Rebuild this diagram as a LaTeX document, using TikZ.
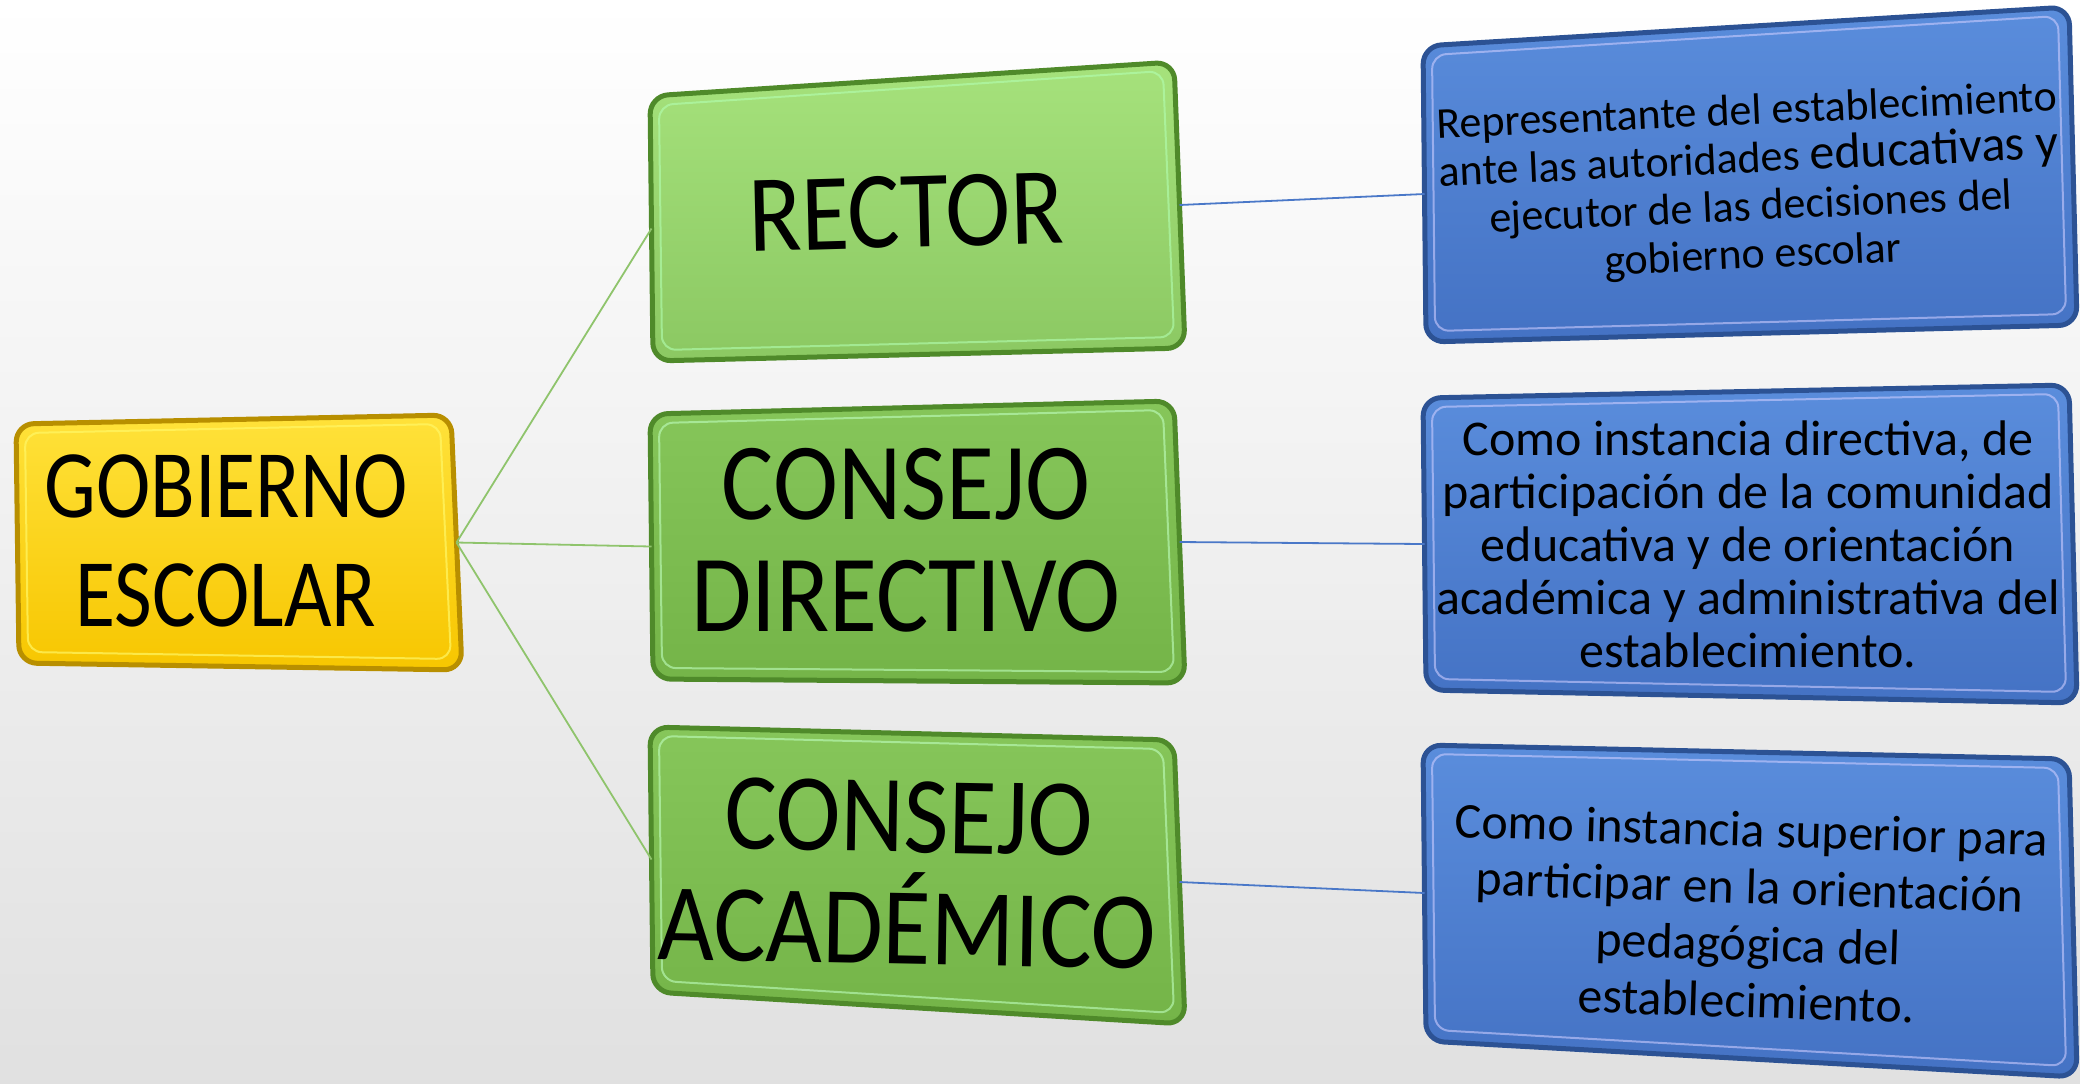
\documentclass[tikz,border=0pt]{standalone}
\usepackage{fontspec}
\setmainfont{Carlito}
\usetikzlibrary{calc}
\definecolor{yelTop}{HTML}{FFE23A}
\definecolor{yelBot}{HTML}{F7C600}
\definecolor{yelEdge}{HTML}{B88F00}
\definecolor{grTopA}{HTML}{A6E27C}
\definecolor{grBotA}{HTML}{8BC862}
\definecolor{grTopB}{HTML}{86C65A}
\definecolor{grBotB}{HTML}{74B448}
\definecolor{grEdge}{HTML}{4F8A2A}
\definecolor{blTop}{HTML}{5A8DDC}
\definecolor{blBot}{HTML}{4472C4}
\definecolor{blEdge}{HTML}{2C5294}
\definecolor{lnGreen}{HTML}{8FC46C}
\definecolor{lnBlue}{HTML}{4A78C8}
\newcommand\bevbox[6]{%
  \coordinate (#1-tl) at #2;
  \coordinate (#1-tr) at #3;
  \coordinate (#1-br) at #4;
  \coordinate (#1-bl) at #5;
  \path[#6] (#1-tl) -- (#1-tr) -- (#1-br) -- (#1-bl) -- cycle;
  \draw[#6-inner] ([shift={(9,9)}]#1-tl) -- ([shift={(-11,9)}]#1-tr) -- ([shift={(-11,-11)}]#1-br) -- ([shift={(9,-11)}]#1-bl) -- cycle;
  \coordinate (#1-e) at ($(#1-tr)!.5!(#1-br)$);
  \coordinate (#1-w) at ($(#1-tl)!.5!(#1-bl)$);
}
\tikzset{
  yelbox/.style={top color=yelTop, bottom color=yelBot, draw=yelEdge, line width=2.5pt, rounded corners=9pt},
  yelbox-inner/.style={draw=yellow!60!white, line width=1pt, rounded corners=7pt, opacity=0.7},
  grboxA/.style={top color=grTopA, bottom color=grBotA, draw=grEdge, line width=2.5pt, rounded corners=9pt},
  grboxA-inner/.style={draw=green!30!white, line width=1pt, rounded corners=7pt, opacity=0.6},
  grboxB/.style={top color=grTopB, bottom color=grBotB, draw=grEdge, line width=2.5pt, rounded corners=9pt},
  grboxB-inner/.style={draw=green!25!white, line width=1pt, rounded corners=7pt, opacity=0.6},
  blbox/.style={top color=blTop, bottom color=blBot, draw=blEdge, line width=2.5pt, rounded corners=9pt},
  blbox-inner/.style={draw=blue!20!white, line width=1pt, rounded corners=7pt, opacity=0.6},
  gline/.style={draw=lnGreen, line width=0.9pt},
  bline/.style={draw=lnBlue, line width=0.9pt},
  bigtxt/.style={text=black, align=center, inner sep=0pt},
  desctxt/.style={text=black, align=center, inner sep=0pt},
}
\begin{document}
\begin{tikzpicture}[x=0.5pt,y=-0.5pt]
\useasboundingbox (0,0) rectangle (2080,1083);
\shade[top color=white, bottom color=black!12] (0,0) rectangle (2080,1083);

\bevbox{gob}{(16,424)}{(451,415)}{(462,670)}{(19,663)}{yelbox}
\bevbox{rec}{(650,96)}{(1174,62)}{(1185,348)}{(653,361)}{grboxA}
\bevbox{dir}{(650,414)}{(1174,401)}{(1185,683)}{(653,679)}{grboxB}
\bevbox{aca}{(650,727)}{(1174,740)}{(1185,1024)}{(653,992)}{grboxB}
\bevbox{d1}{(1423,46)}{(2069,7)}{(2077,325)}{(1426,342)}{blbox}
\bevbox{d2}{(1423,398)}{(2069,385)}{(2077,703)}{(1426,690)}{blbox}
\bevbox{d3}{(1423,745)}{(2069,759)}{(2077,1077)}{(1426,1041)}{blbox}

\node[bigtxt, yscale=1.18, font=\fontsize{41}{46}\selectfont] (tgob) at (226,541) {GOBIERNO\\ESCOLAR};
\node[bigtxt, yscale=1.12, rotate=1.5, font=\fontsize{49}{50}\selectfont] (trec) at (906,212) {RECTOR};
\node[bigtxt, yscale=1.12, font=\fontsize{49}{50}\selectfont] (tdir) at (906,540) {CONSEJO\\DIRECTIVO};
\node[bigtxt, yscale=1.12, rotate=-1, font=\fontsize{49}{50}\selectfont] (taca) at (908,873) {CONSEJO\\ACADÉMICO};

\node[desctxt, rotate=2.6, font=\fontsize{22}{24}\selectfont] (td1) at (1750,185)
  {Representante del establecimiento\\ante las autoridades {\fontsize{25}{24}\selectfont educativas y}\\ejecutor de las decisiones del\\gobierno escolar};
\node[desctxt, font=\fontsize{25}{26.5}\selectfont] (td2) at (1748,544)
  {Como instancia directiva, de\\participación de la comunidad\\educativa y de orientación\\académica y administrativa del\\establecimiento.};
\node[desctxt, rotate=-1.8, font=\fontsize{25}{28.5}\selectfont] (td3) at (1749,915)
  {Como instancia superior para\\participar en la orientación\\pedagógica del\\establecimiento.};

\draw[gline] (gob-e) -- (rec-w);
\draw[gline] (gob-e) -- (dir-w);
\draw[gline] (gob-e) -- (aca-w);
\draw[bline] (rec-e) -- (d1-w);
\draw[bline] (dir-e) -- (d2-w);
\draw[bline] (aca-e) -- (d3-w);
\end{tikzpicture}
\end{document}
